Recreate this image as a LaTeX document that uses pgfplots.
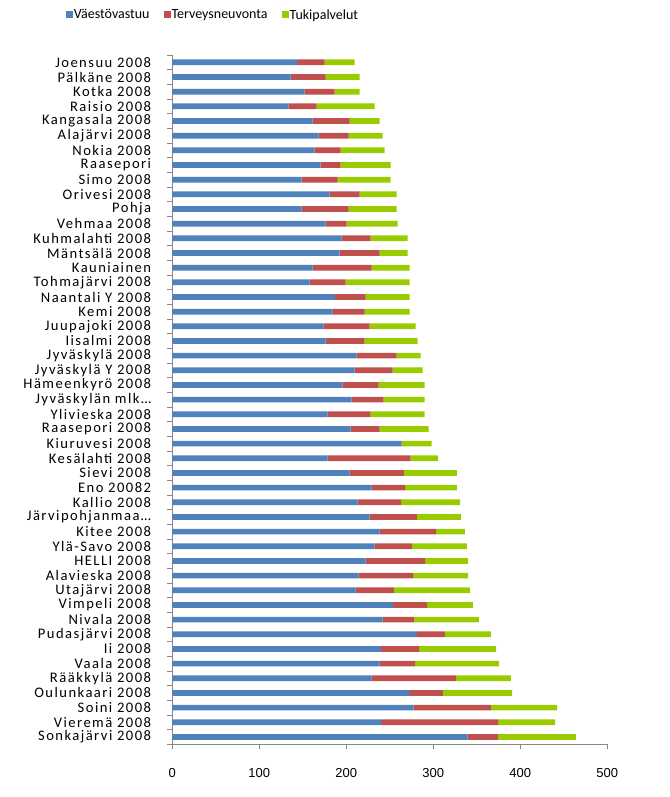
\documentclass[border=0pt]{standalone}
\usepackage{fontspec}
\setmainfont{Carlito}
\newfontfamily\labelfont[LetterSpace=10]{Carlito}
\newfontfamily\legfont{Carlito}
\newfontfamily\tickfontfam{Liberation Sans}
\usepackage{pgfplots}
\usepackage{pgfplotstable}
\pgfplotsset{compat=1.18}
\definecolor{cblue}{HTML}{4F81BD}
\definecolor{cred}{HTML}{C0504D}
\definecolor{cgreen}{HTML}{99CC00}
\definecolor{axisgray}{HTML}{868686}
\pgfplotstableread[col sep=comma]{
idx,label,a,b,c
0,Sonkajärvi 2008,339.5,34.9,89.6
1,Vieremä 2008,239.7,134.7,65.5
2,Soini 2008,277.4,88.9,75.9
3,Oulunkaari 2008,271.8,39.3,79.4
4,Rääkkylä 2008,229.1,97,63.2
5,Vaala 2008,238.3,40.7,96.5
6,Ii 2008,239.7,43.9,88.5
7,Pudasjärvi 2008,281,32.4,52.9
8,Nivala 2008,241.8,36,74.7
9,Vimpeli 2008,253.5,39.3,52.8
10,Utajärvi 2008,210.7,44.1,87.4
11,Alavieska 2008,214.2,62.5,63.2
12,HELLI 2008,222.2,68.3,49.4
13,Ylä-Savo 2008,232.6,42.9,63.2
14,Kitee 2008,238.3,64.8,33.3
15,Järvipohjanmaa…,226.8,54.5,50.5
16,Kallio 2008,213,49.9,67.8
17,Eno 20082,229.1,38.4,59.7
18,Sievi 2008,203.8,62.5,60.9
19,Kesälahti 2008,178.5,95.4,31.5
20,Kiuruvesi 2008,263.6,0,34.5
21,Raasepori 2008,205,33.3,56.3
22,Ylivieska 2008,178.5,49.5,62
23,Jyväskylän mlk…,206.1,36.8,47.1
24,Hämeenkyrö 2008,195.8,41.4,52.8
25,Jyväskylä Y 2008,209.6,43.7,34.4
26,Jyväskylä 2008,211.9,46,27.5
27,Iisalmi 2008,176.2,44.9,60.9
28,Juupajoki 2008,173.6,53.2,52.9
29,Kemi 2008,184.3,36.8,51.7
30,Naantali Y 2008,187,35.2,50.6
31,Tohmajärvi 2008,157.9,41.3,73.6
32,Kauniainen,161.3,67.8,43.7
33,Mäntsälä 2008,192.3,46,32.2
34,Kuhmalahti 2008,194.6,33.4,42.5
35,Vehmaa 2008,176.2,24.2,58.6
36,Pohja,148.7,54,55.2
37,Orivesi 2008,180.8,34.5,42.6
38,Simo 2008,148.7,41.3,61
39,Raasepori,170.5,23,57.5
40,Nokia 2008,163.6,29.9,50.6
41,Alajärvi 2008,168.2,34.5,39.1
42,Kangasala 2008,161.3,42.5,34.5
43,Raisio 2008,133.7,32.2,66.7
44,Kotka 2008,152.1,34.5,28.7
45,Pälkäne 2008,136,40.2,39.1
46,Joensuu 2008,143.3,31.8,34.5
}\data
\begin{document}
\begin{tikzpicture}
\path[use as bounding box] (0,0) rectangle (669pt,797pt);
\begin{axis}[
  at={(172.3pt,52.7pt)}, anchor=south west,
  scale only axis, width=435pt, height=689.3pt,
  xbar stacked, bar width=5.7pt,
  xmin=0, xmax=500, ymin=-0.5, ymax=46.5,
  axis x line*=bottom, axis y line*=left,
  axis line style={draw=axisgray, line width=0.9pt},
  tick align=outside,
  xtick={0,100,...,500},
  major tick length=5pt, minor tick length=5pt,
  major x tick style={draw=axisgray, line width=0.9pt},
  ytick={0,...,46},
  yticklabels from table={\data}{label},
  major y tick style={draw=none},
  minor ytick={-0.5,0.5,...,46.5},
  minor y tick style={draw=axisgray, line width=0.9pt},
  /pgf/number format/assume math mode=true,
  xticklabel style={font=\tickfontfam\fontsize{13}{13}\selectfont, text=black, yshift=-16pt},
  yticklabel style={font=\labelfont\fontsize{14.6}{14.6}\selectfont, anchor=east, inner sep=0pt, xshift=-16pt},
  legend columns=3,
  legend style={draw=none, fill=none, inner sep=0pt, outer sep=0pt,
    at={(axis description cs:0,1)}, anchor=west, xshift=-106.3pt, yshift=40pt,
    nodes={inner sep=1pt, font=\legfont\fontsize{14}{14}\selectfont},
    /tikz/every even column/.append style={column sep=13pt}},
  legend image code/.code={\fill[#1] (0pt,-3.5pt) rectangle (7pt,3.5pt);},
]
\addplot[fill=cblue, draw=none] table[x=a, y=idx] {\data};
\addplot[fill=cred, draw=none] table[x=b, y=idx] {\data};
\addplot[fill=cgreen, draw=none] table[x=c, y=idx] {\data};
\legend{Väestövastuu, Terveysneuvonta, Tukipalvelut}
\end{axis}
\end{tikzpicture}
\end{document}
